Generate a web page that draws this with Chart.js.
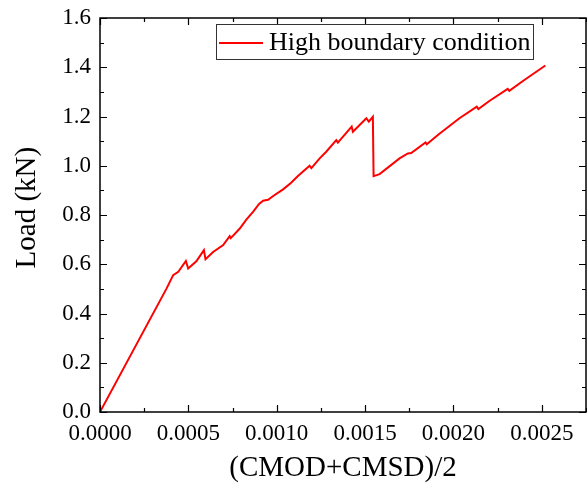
<!DOCTYPE html>
<html>
<head>
<meta charset="utf-8">
<script src="https://cdn.jsdelivr.net/npm/chart.js@4.4.0/dist/chart.umd.min.js"></script>
<style>
  html, body { margin: 0; padding: 0; background: #fff; }
  #wrap { width: 587px; height: 489px; }
</style>
</head>
<body>
<div id="wrap"><canvas id="myChart" width="587" height="489"></canvas></div>
<script>
// valores
const seriesName = "High boundary condition";
const yTitle = "Load (kN)";
const openingVals = [
  0, 0.000377, 0.000414, 0.000443, 0.000486, 0.000499, 0.000545, 0.000588, 0.000597,
  0.00064, 0.000697, 0.000734, 0.00074, 0.000791, 0.000829, 0.000866, 0.0009, 0.000923,
  0.000951, 0.00098, 0.001036, 0.00108, 0.00112, 0.001186, 0.001196, 0.001243, 0.00128,
  0.001337, 0.001346, 0.001424, 0.001431, 0.001507, 0.001521, 0.001544, 0.001548, 0.001582,
  0.001695, 0.001742, 0.001761, 0.001842, 0.001849, 0.001917, 0.002034, 0.002132, 0.002141,
  0.002203, 0.002307, 0.002316, 0.002401, 0.00252
];
const loadVals = [
  0, 0.502, 0.556, 0.569, 0.613, 0.583, 0.612, 0.657, 0.62,
  0.65, 0.678, 0.714, 0.706, 0.745, 0.782, 0.813, 0.845, 0.858,
  0.862, 0.877, 0.904, 0.93, 0.958, 1.0, 0.99, 1.03, 1.057,
  1.104, 1.094, 1.159, 1.138, 1.193, 1.179, 1.199, 0.958, 0.966,
  1.03, 1.05, 1.052, 1.095, 1.087, 1.128, 1.193, 1.24, 1.23,
  1.263, 1.312, 1.304, 1.348, 1.407
];
const xTicks = [0, 0.0005, 0.001, 0.0015, 0.002, 0.0025];
const yTicks = [0, 0.2, 0.4, 0.6, 0.8, 1.0, 1.2, 1.4, 1.6];

const SERIF = "'Liberation Serif', 'Times New Roman', serif";

const points = openingVals.map((x, i) => ({ x: x, y: loadVals[i] }));

// marco, ticks hacia adentro, titulo del eje y y leyenda (estilo Origin)
const framePlugin = {
  id: "frame",
  afterDatasetsDraw(chart) {
    const { ctx, chartArea: a, scales } = chart;
    const xs = scales.x, ys = scales.y;
    ctx.save();
    ctx.strokeStyle = "#000";
    ctx.lineWidth = 1.5;
    ctx.strokeRect(a.left, a.top, a.right - a.left, a.bottom - a.top);

    ctx.lineWidth = 1.2;
    ctx.beginPath();
    const xStep = xTicks[1] - xTicks[0];
    for (let v = 0; v <= xs.max + 1e-12; v += xStep / 2) {
      const px = Math.round(xs.getPixelForValue(v)) + 0.5;
      const major = Math.abs(v / xStep - Math.round(v / xStep)) < 1e-6;
      const len = major ? 7 : 4;
      ctx.moveTo(px, a.bottom); ctx.lineTo(px, a.bottom - len);
      ctx.moveTo(px, a.top); ctx.lineTo(px, a.top + len);
    }
    const yStep = yTicks[1] - yTicks[0];
    for (let v = 0; v <= ys.max + 1e-9; v += yStep / 2) {
      const py = Math.round(ys.getPixelForValue(v)) + 0.5;
      const major = Math.abs(v / yStep - Math.round(v / yStep)) < 1e-6;
      const len = major ? 7 : 4;
      ctx.moveTo(a.left, py); ctx.lineTo(a.left + len, py);
      ctx.moveTo(a.right, py); ctx.lineTo(a.right - len, py);
    }
    ctx.stroke();

    // titulo eje y (un poco arriba del centro, como en la figura)
    ctx.save();
    ctx.translate(27, ys.getPixelForValue(0.83));
    ctx.rotate(-Math.PI / 2);
    ctx.fillStyle = "#000";
    ctx.font = "29px " + SERIF;
    ctx.textAlign = "center";
    ctx.textBaseline = "middle";
    ctx.fillText(yTitle, 0, 0);
    ctx.restore();

    // leyenda
    const ds = chart.data.datasets[0];
    const bx = a.left + 116, by = a.top + 6, bw = 317, bh = 35;
    ctx.fillStyle = "#fff";
    ctx.fillRect(bx, by, bw, bh);
    ctx.strokeStyle = "#333";
    ctx.lineWidth = 1;
    ctx.strokeRect(bx + 0.5, by + 0.5, bw, bh);
    ctx.strokeStyle = ds.borderColor;
    ctx.lineWidth = 2;
    ctx.beginPath();
    ctx.moveTo(bx + 3, by + 19);
    ctx.lineTo(bx + 47, by + 19);
    ctx.stroke();
    ctx.fillStyle = "#000";
    ctx.font = "26px " + SERIF;
    ctx.textBaseline = "middle";
    ctx.textAlign = "left";
    ctx.fillText(ds.label, bx + 53, by + 19);
    ctx.restore();
  },
};

const ctx = document.getElementById("myChart").getContext("2d");
new Chart(ctx, {
  type: "scatter",
  data: {
    datasets: [
      {
        label: seriesName,
        data: points,
        showLine: true,
        borderColor: "#ff0000",
        borderWidth: 2,
        pointRadius: 0,
        tension: 0,
      },
    ],
  },
  options: {
    responsive: false,
    animation: false,
    layout: { padding: { top: 18, right: 1, left: 0, bottom: 0 } },
    plugins: { legend: { display: false }, tooltip: { enabled: false } },
    scales: {
      x: {
        type: "linear",
        min: 0,
        max: 0.00275,
        afterBuildTicks: (s) => { s.ticks = xTicks.map((v) => ({ value: v })); },
        afterFit: (s) => { s.height = 77; s.paddingRight = 0; },
        grid: { display: false, drawTicks: false },
        border: { display: false },
        ticks: {
          padding: 8,
          color: "#000",
          maxRotation: 0,
          font: { family: SERIF, size: 23 },
          callback: (v) => Number(v).toFixed(4),
        },
        title: {
          display: true,
          text: "(CMOD+CMSD)/2",
          color: "#000",
          font: { family: SERIF, size: 29 },
          padding: { top: 0, bottom: 3 },
        },
      },
      y: {
        min: 0,
        max: 1.6,
        afterBuildTicks: (s) => { s.ticks = yTicks.map((v) => ({ value: v })); },
        afterFit: (s) => { s.width = 100; s.paddingTop = 0; s.paddingBottom = 0; },
        grid: { display: false, drawTicks: false },
        border: { display: false },
        ticks: {
          padding: 9,
          color: "#000",
          font: { family: SERIF, size: 23 },
          callback: (v) => Number(v).toFixed(1),
        },
      },
    },
  },
  plugins: [framePlugin],
});
</script>
</body>
</html>
